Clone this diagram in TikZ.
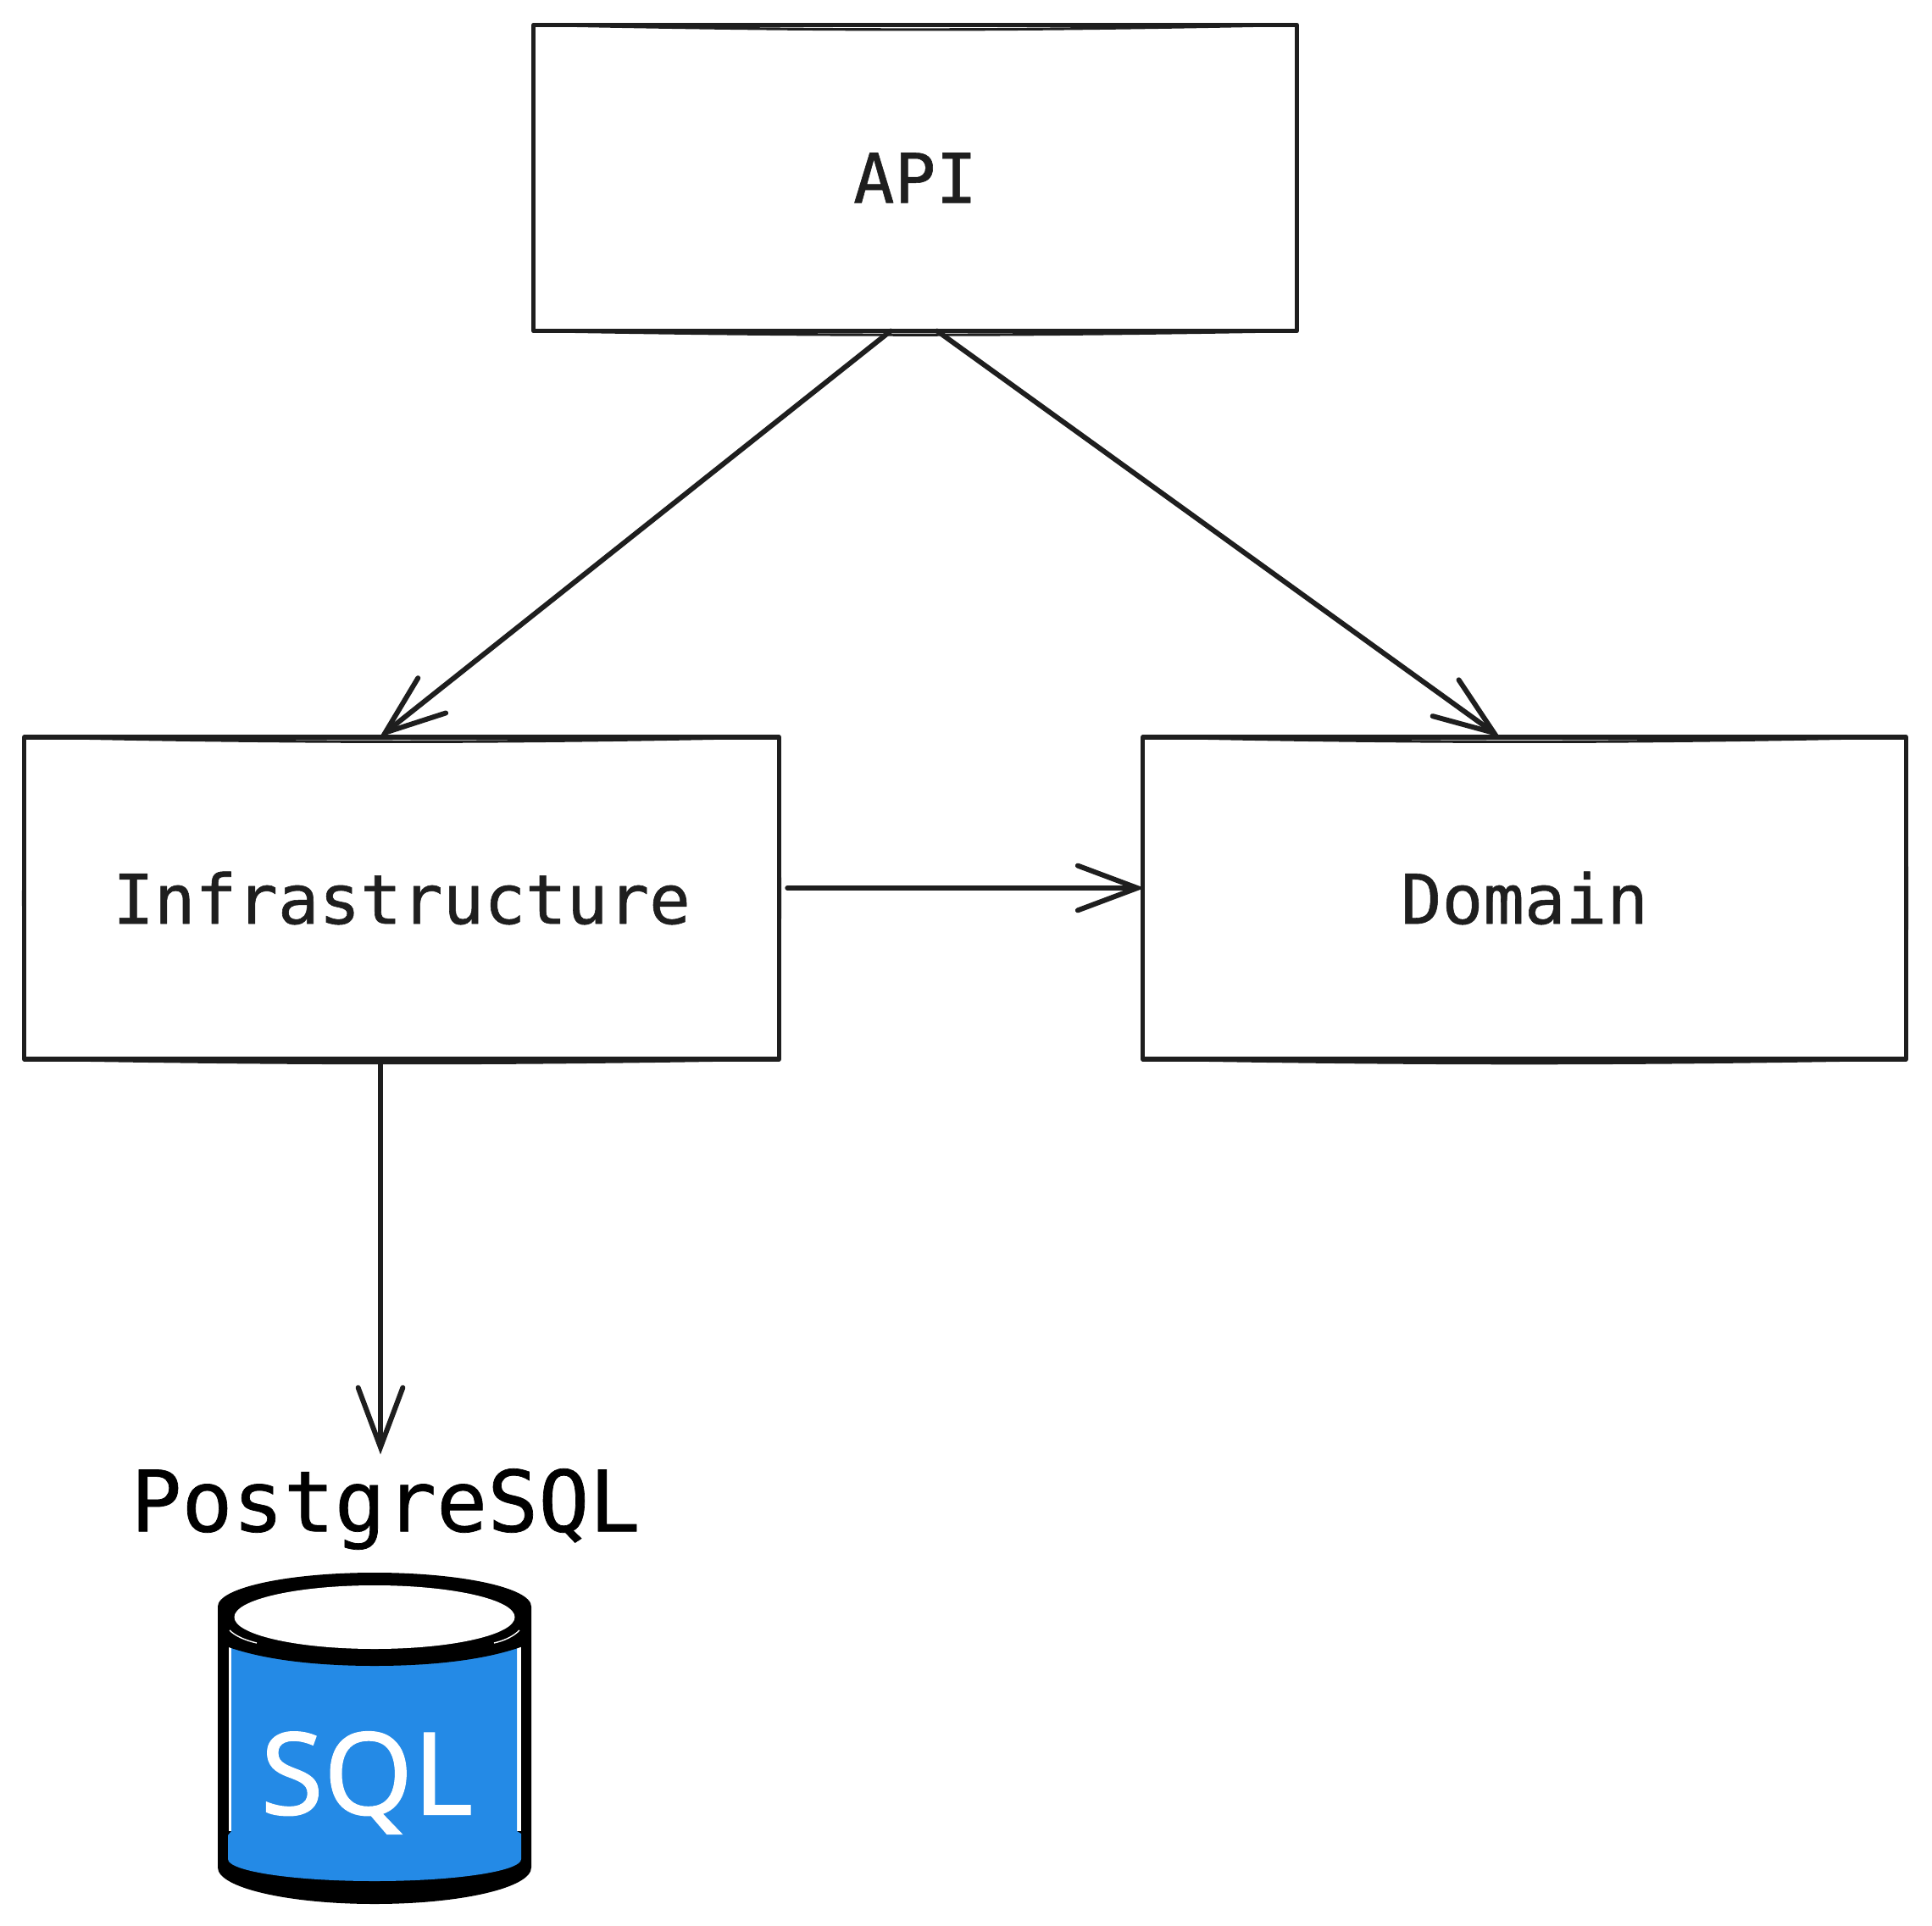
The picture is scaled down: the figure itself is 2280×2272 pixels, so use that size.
\documentclass[tikz,border=0pt]{standalone}
\usepackage{fontspec}
\setmonofont[FakeBold=0.7]{DejaVu Sans Mono}
\setsansfont[FakeBold=0.8]{Noto Sans}
\usetikzlibrary{arrows.meta}
\definecolor{ink}{HTML}{1E1E1E}
\definecolor{dbblue}{HTML}{248AE6}
\tikzset{
    layer/.style={draw=ink,line width=1.5pt,line join=round,inner sep=0pt,outer sep=0pt,
        font=\ttfamily\fontsize{23}{23}\selectfont,text=ink},
    rough/.style={draw=ink,line width=0.9pt,line cap=round},
    link/.style={draw=ink,line width=1.7pt,line cap=round,
        -{Straight Barb[length=20pt,width=15pt,line cap=round]}}
}
\begin{document}
\begin{tikzpicture}[x=0.01cm,y=0.01cm]
\useasboundingbox (0,0) rectangle (2280,2272);
\node[layer,minimum width=9cm,minimum height=3.61cm] (api) at (1080,2062) {API};
\node[layer,minimum width=8.9cm,minimum height=3.8cm] (infra) at (474,1212) {Infrastructure};
\node[layer,minimum width=9cm,minimum height=3.8cm] (domain) at (1799,1212) {Domain};
\foreach \n in {api,infra,domain}
{
    \draw[rough](\n.north west)to[bend right=1.2](\n.north east);
    \draw[rough](\n.south west)to[bend right=1](\n.south east);
    \draw[rough](\n.north west)to[bend right=.6](\n.south west);
    \draw[rough](\n.north east)to[bend left=.6](\n.south east);
}
\node[font=\ttfamily\fontsize{28.4}{28.4}\selectfont,text=black,inner sep=0pt] (postgres) at (455,491) {PostgreSQL};
% database
\fill[black](257,376)arc[start angle=180,end angle=0,x radius=185,y radius=40]
    --(627,68)arc[start angle=0,end angle=-180,x radius=185,y radius=43]--cycle;
\fill[white](270,331)--(270,111)--(615,111)--(615,331)--cycle;
\fill[dbblue](273,331)--(273,111)--(269,106)--(269,78)
    arc[start angle=180,end angle=360,x radius=173,y radius=26]
    --(615,108)--(610,111)--(610,331)--cycle;
\fill[black](262,360)--(262,331)..controls(310,312)and(380,306)..(442,306)
    ..controls(504,306)and(574,312)..(622,331)--(622,360)--cycle;
\draw[white,line width=0.4pt](271,348)..controls(278,341)and(290,336)..(303,333);
\draw[white,line width=0.4pt](613,348)..controls(606,341)and(596,336)..(583,333);
\fill[white](442,363.5)ellipse[x radius=165.5,y radius=37.5];
\node[font=\sffamily\fontsize{38.5}{38.5}\selectfont,text=white,inner sep=0pt] (sql) at (433,168) {SQL};
% connectors
\draw[link]([xshift=-0.29cm]api.south)--([xshift=-0.26cm]infra.north);
\draw[link]([xshift=0.26cm]api.south)--([xshift=-0.29cm]domain.north);
\draw[link]([xshift=0.1cm,yshift=0.12cm]infra.east)--([xshift=0.02cm,yshift=0.12cm]domain.west);
\draw[link]([xshift=-0.06cm]infra.south-|postgres.north)--([xshift=-0.06cm,yshift=0.16cm]postgres.north);
\end{tikzpicture}
\end{document}
